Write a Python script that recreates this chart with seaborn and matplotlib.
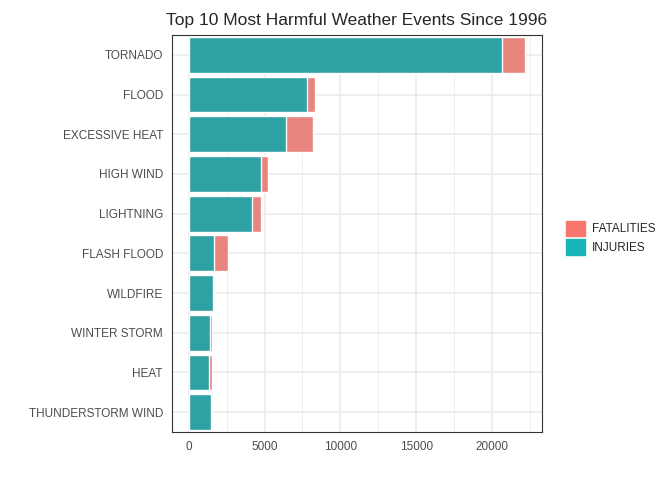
import pandas as pd
import seaborn as sns
from matplotlib import pyplot as plt
from matplotlib.patches import Patch

eventos = ["TORNADO", "FLOOD", "EXCESSIVE HEAT", "HIGH WIND", "LIGHTNING",
           "FLASH FLOOD", "WILDFIRE", "WINTER STORM", "HEAT", "THUNDERSTORM WIND"]
injuries = [20650, 7800, 6420, 4740, 4160, 1700, 1590, 1380, 1340, 1460]
fatalities = [1550, 500, 1810, 520, 640, 890, 100, 190, 230, 110]

dados = pd.DataFrame({"EVTYPE": eventos, "INJURIES": injuries, "FATALITIES": fatalities})
dados["TOTAL"] = dados["INJURIES"] + dados["FATALITIES"]

corFat = "#F8766D"
corInj = "#19B4B8"

sns.set_style("white")
plt.rcParams["font.family"] = ["Liberation Sans", "DejaVu Sans"]
fig = plt.figure(figsize=(6.72, 4.8), dpi=100)
ax = fig.add_axes([172 / 672, 48 / 480, 370 / 672, 397 / 480])

sns.barplot(data=dados, y="EVTYPE", x="TOTAL", color=corFat, width=0.9, ax=ax, zorder=2)
sns.barplot(data=dados, y="EVTYPE", x="INJURIES", color=corInj, width=0.9, ax=ax, zorder=3)

ax.set_xlim(-1100, 23300)
ax.set_xticks([0, 5000, 10000, 15000, 20000])
ax.set_xticks([2500, 7500, 12500, 17500, 22500], minor=True)
ax.grid(True, which="major", color="#EBEBEB", linewidth=1.1, zorder=0)
ax.grid(True, which="minor", axis="x", color="#EBEBEB", linewidth=0.6, zorder=0)
ax.set_axisbelow(True)
for s in ax.spines.values():
    s.set_color("#333333")
    s.set_linewidth(0.8)
ax.tick_params(axis="both", which="major", length=3, color="#333333", labelsize=8.5, labelcolor="#4D4D4D")
ax.tick_params(which="minor", length=0)
ax.set_xlabel("")
ax.set_ylabel("")
ax.set_title("Top 10 Most Harmful Weather Events Since 1996", fontsize=12.5, pad=7)

handles = [Patch(color=corFat, label="FATALITIES"), Patch(color=corInj, label="INJURIES")]
fig.legend(handles=handles, loc="center left", bbox_to_anchor=(555 / 672, 0.505), frameon=False,
           fontsize=8.5, handlelength=1.6, handleheight=1.6, handletextpad=0.6, labelspacing=0.3)

plt.savefig("out.png", dpi=100)
